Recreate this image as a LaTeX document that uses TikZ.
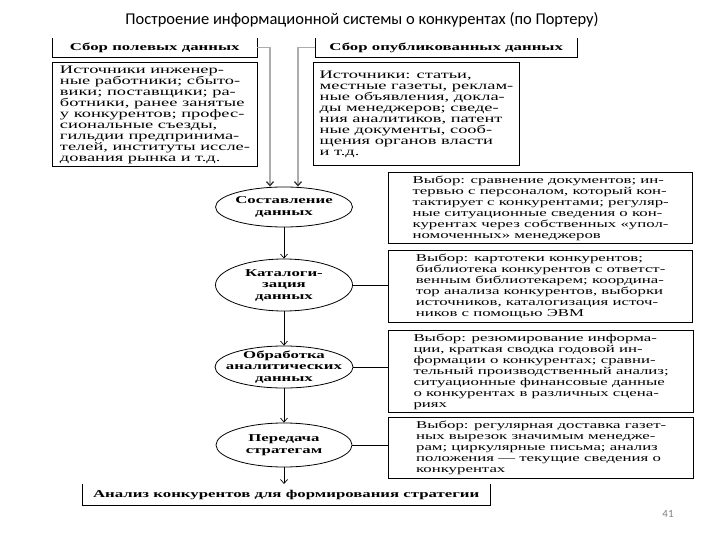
\documentclass[tikz,border=0pt]{standalone}
\usepackage{fontspec}
\setmainfont[FakeStretch=1.6]{Liberation Serif}
\newfontfamily\titlefont{Carlito}
\usetikzlibrary{shapes.geometric,arrows.meta}
\tikzset{
  bodyfont/.style={font=\fontsize{10.5}{11}\selectfont},
  srcfont/.style={font=\fontsize{11.5}{11}\selectfont},
  srcbox/.style={draw, line width=1pt, inner sep=3pt, anchor=north west, align=left, srcfont},
  selbox/.style={draw, line width=1.3pt, inner sep=3pt, anchor=north west, align=left, bodyfont},
  hdr/.style={inner sep=0pt, anchor=north west, font=\bfseries\fontsize{10.5}{11}\selectfont},
  hdrline/.style={line width=0.8pt},
  ell/.style={draw, ellipse, inner sep=0pt, line width=0.8pt},
  ellt/.style={inner sep=0pt, align=center, font=\bfseries\fontsize{10.5}{11.5}\selectfont},
  arr/.style={line width=0.7pt, -{Straight Barb[length=4pt,width=7pt]}},
  gconn/.style={draw=gray!65, line width=1.3pt, -{Straight Barb[length=4pt,width=7pt,color=black!80]}},
  link/.style={line width=0.7pt}
}
\begin{document}
\begin{tikzpicture}[x=1pt,y=-1pt]
\useasboundingbox[fill=white] (0,0) rectangle (720,540);

\node[font=\titlefont\fontsize{16.5}{16.5}\selectfont] (title) at (362,20) {Построение информационной системы о конкурентах (по Портеру)};

% headers (open top)
\node[hdr, minimum width=205, minimum height=19] (h1) at (52,38) {Сбор полевых данных};
\draw[hdrline] (h1.north west) -- (h1.south west) -- (h1.south east) -- (h1.north east);
\node[hdr, minimum width=262, minimum height=19] (h2) at (315,38) {Сбор опубликованных данных};
\draw[hdrline] (h2.north west) -- (h2.south west) -- (h2.south east) -- (h2.north east);

% source boxes
\node[srcbox, minimum width=205, minimum height=100] (s1) at (52,62) {Источники инженер-\\ные работники; сбыто-\\вики; поставщики; ра-\\ботники, ранее занятые\\у конкурентов; профес-\\сиональные съезды,\\гильдии предпринима-\\телей, институты иссле-\\дования рынка и т.д.};
\node[srcbox, minimum width=206, minimum height=103] (s2) at (313,62) {Источники: статьи,\\местные газеты, реклам-\\ные объявления, докла-\\ды менеджеров; сведе-\\ния аналитиков, патент\\ные документы, сооб-\\щения органов власти\\и т.д.};

% ellipses
\node[ell, minimum width=137, minimum height=40] (e1) at (284,207) {};
\node[ellt] (e1t) at (e1) {Составление\\данных};
\node[ell, minimum width=137, minimum height=52] (e2) at (284,285) {};
\node[ellt] (e2t) at (e2) {Каталоги-\\зация\\данных};
\node[ell, minimum width=138, minimum height=42] (e3) at (284,367) {};
\node[ellt] (e3t) at (e3) {Обработка\\аналитических\\данных};
\node[ell, minimum width=136, minimum height=44] (e4) at (284,445) {};
\node[ellt] (e4t) at (e4) {Передача\\стратегам};

% selection boxes
\node[selbox, minimum width=304, minimum height=71] (bA) at (388,172) {Выбор: сравнение документов; ин-\\тервью с персоналом, который кон-\\тактирует с конкурентами; регуляр-\\ные ситуационные сведения о кон-\\курентах через собственных «упол-\\номоченных» менеджеров};
\node[selbox, minimum width=304, minimum height=72] (bB) at (388,250) {Выбор: картотеки конкурентов;\\библиотека конкурентов с ответст-\\венным библиотекарем; координа-\\тор анализа конкурентов, выборки\\источников, каталогизация источ-\\ников с помощью ЭВМ};
\node[selbox, minimum width=305, minimum height=78] (bC) at (388,330) {Выбор: резюмирование информа-\\ции, краткая сводка годовой ин-\\формации о конкурентах; сравни-\\тельный производственный анализ;\\ситуационные финансовые данные\\о конкурентах в различных сцена-\\риях};
\node[selbox, minimum width=305, minimum height=61] (bD) at (388,417) {Выбор: регулярная доставка газет-\\ных вырезок значимым менедже-\\рам; циркулярные письма; анализ\\положения — текущие сведения о\\конкурентах};

% bottom (open top)
\node[hdr, minimum width=408, minimum height=21] (bot) at (82,484) {Анализ конкурентов для формирования стратегии};
\draw[hdrline] (bot.north west) -- (bot.south west) -- (bot.south east) -- (bot.north east);

% connectors
\draw[gconn] (h1.east) -| ([xshift=-14pt]e1.north);
\draw[gconn] (h2.west) -| ([xshift=14pt]e1.north);
\draw[arr] (e1.south) -- (e2.north);
\draw[arr] (e2.south) -- (e3.north);
\draw[arr] (e3.south) -- (e4.north);
\draw[arr] (e4.south) -- (e4.south |- bot.north);
\draw[link] (e2.east) -- (e2.east -| bB.west);
\draw[link] (e3.east) -- (e3.east -| bC.west);
\draw[link] (e4.east) -- (e4.east -| bD.west);

\node[font=\titlefont\fontsize{11}{11}\selectfont, text=gray] (pg) at (668,514) {41};
\end{tikzpicture}
\end{document}
